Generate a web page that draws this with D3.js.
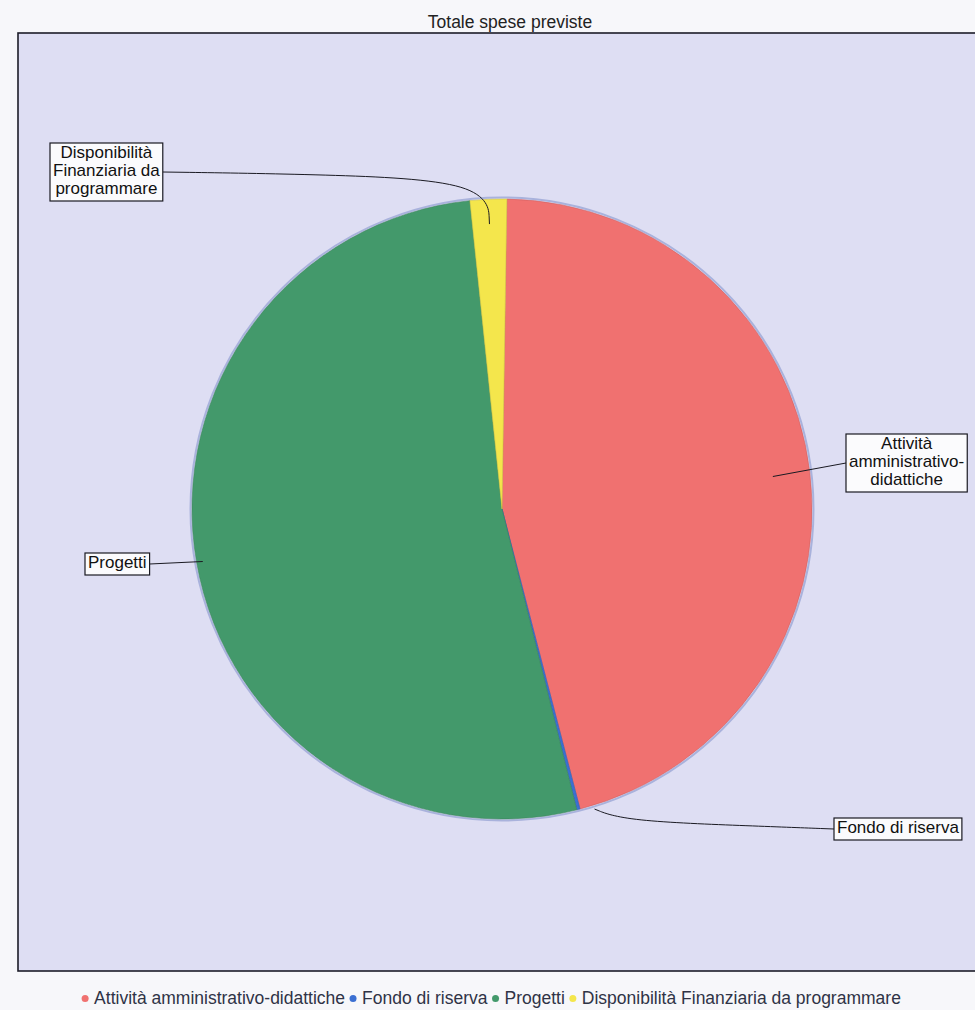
<!DOCTYPE html>
<html>
<head>
<meta charset="utf-8">
<script src="https://cdn.jsdelivr.net/npm/d3@7"></script>
<style>
  body { margin: 0; background: #f7f7fa; }
  svg { display: block; font-family: "Liberation Sans", Arial, sans-serif; }
</style>
</head>
<body>
<div id="chart"></div>
<script>
var width = 975;
var height = 1010;

// data (share of total, %)
var categories = ['Attività amministrativo-didattiche', 'Fondo di riserva', 'Progetti', 'Disponibilità Finanziaria da programmare'];
var values = [45.7, 0.17, 52.23, 1.9];
var colors = ['#f07170', '#3b6fd2', '#43996b', '#f4e64c'];
var labelLines = [
	['Attività', 'amministrativo-', 'didattiche'],
	['Fondo di riserva'],
	['Progetti'],
	['Disponibilità', 'Finanziaria da', 'programmare']
];

var title = 'Totale spese previste';

var cx = 502, cy = 509, radius = 310;

var svg = d3.select('#chart')
	.append('svg')
	.attr('width', width)
	.attr('height', height);

// plot panel
svg.append('rect')
	.attr('x', 18)
	.attr('y', 33)
	.attr('width', 990)
	.attr('height', 938)
	.attr('fill', '#dedef3')
	.attr('stroke', '#1c1c28')
	.attr('stroke-width', 1.6);

svg.append('text')
	.attr('x', 510)
	.attr('y', 28)
	.attr('text-anchor', 'middle')
	.attr('font-size', 17.5)
	.attr('fill', '#222')
	.text(title);

var pie = d3.pie()
	.sort(null)
	.startAngle(0.9 * Math.PI / 180)
	.endAngle(2 * Math.PI + 0.9 * Math.PI / 180);

var arcs = pie(values);

var arc = d3.arc()
	.innerRadius(0)
	.outerRadius(radius);

var g = svg.append('g')
	.attr('transform', 'translate(' + cx + ',' + cy + ')');

// faint edge shadow
g.append('circle')
	.attr('r', radius + 1.5)
	.attr('fill', 'none')
	.attr('stroke', '#a9b2dc')
	.attr('stroke-width', 2);

g.selectAll('path.slice')
	.data(arcs)
	.enter()
	.append('path')
	.attr('class', 'slice')
	.attr('d', arc)
	.attr('fill', function(d, i) { return colors[i]; })
	.attr('stroke', function(d, i) { return d3.color(colors[i]).darker(0.4); })
	.attr('stroke-width', 0.6);

// label boxes: [x, y] of box top-left, in page coordinates
var boxPos = [[846, 434], [834, 818], [85, 553], [50, 143]];
var anchorFrac = [0.88, 1.0, 0.98, 0.92];
var lineH = 18;
var fontSize = 17;

var labels = svg.append('g');

arcs.forEach(function(d, i) {
	var mid = (d.startAngle + d.endAngle) / 2;
	var r = radius * anchorFrac[i];
	var ax = cx + Math.sin(mid) * r;
	var ay = cy - Math.cos(mid) * r;

	var lg = labels.append('g');
	var t = lg.append('text')
		.attr('font-size', fontSize)
		.attr('fill', '#111')
		.attr('text-anchor', 'middle');
	labelLines[i].forEach(function(s, k) {
		t.append('tspan')
			.attr('x', 0)
			.attr('dy', k === 0 ? 0 : lineH)
			.text(s);
	});
	var w = 0;
	t.selectAll('tspan').each(function() { w = Math.max(w, this.getComputedTextLength()); });
	var bw = w + 6;
	var bh = labelLines[i].length * lineH + 4;
	var bx = boxPos[i][0], by = boxPos[i][1];
	t.attr('transform', 'translate(' + (bx + bw / 2) + ',' + (by + 15) + ')');

	// connector side
	var left = bx > cx;
	var sx = left ? bx : bx + bw;
	var sy = by + bh / 2;

	var pts;
	if (i === 3) {
		var ex = cx + Math.sin(mid) * (radius + 18);
		var ey = cy - Math.cos(mid) * (radius + 18);
		pts = [[sx, sy], [(sx + ex) / 2, sy + (ey - sy) * 0.25], [ex, ey], [ax, ay]];
	} else if (i === 1) {
		var fx = cx + Math.sin(mid - 0.05) * (radius + 4);
		var fy = cy - Math.cos(mid - 0.05) * (radius + 4);
		pts = [[sx, sy], [(sx + fx) / 2 + 40, sy - 3], [fx + 30, fy + 12], [fx, fy]];
	} else {
		pts = [[sx, sy], [ax, ay]];
	}

	lg.insert('path', 'text')
		.attr('d', d3.line().curve(d3.curveBasis)(pts))
		.attr('fill', 'none')
		.attr('stroke', '#1a1a22')
		.attr('stroke-width', 1);

	lg.insert('rect', 'text')
		.attr('x', bx)
		.attr('y', by)
		.attr('width', bw)
		.attr('height', bh)
		.attr('fill', '#fbfbfd')
		.attr('stroke', '#1a1a22')
		.attr('stroke-width', 1.2);
});

// legend
var legend = svg.append('g')
	.attr('transform', 'translate(0, 1004)');

var lx = 0;
var items = [];
categories.forEach(function(c, i) {
	var it = legend.append('g');
	it.append('circle')
		.attr('cx', 0)
		.attr('cy', -5.5)
		.attr('r', 3.5)
		.attr('fill', colors[i]);
	var tx = it.append('text')
		.attr('x', 9)
		.attr('font-size', 17.5)
		.attr('fill', '#2f3346')
		.text(c);
	var w = 9 + tx.node().getComputedTextLength();
	items.push({ g: it, x: lx });
	lx += w + 8;
});
var total = lx - 8;
var start = 493 - total / 2;
items.forEach(function(o) {
	o.g.attr('transform', 'translate(' + (start + o.x) + ',0)');
});
</script>
</body>
</html>
